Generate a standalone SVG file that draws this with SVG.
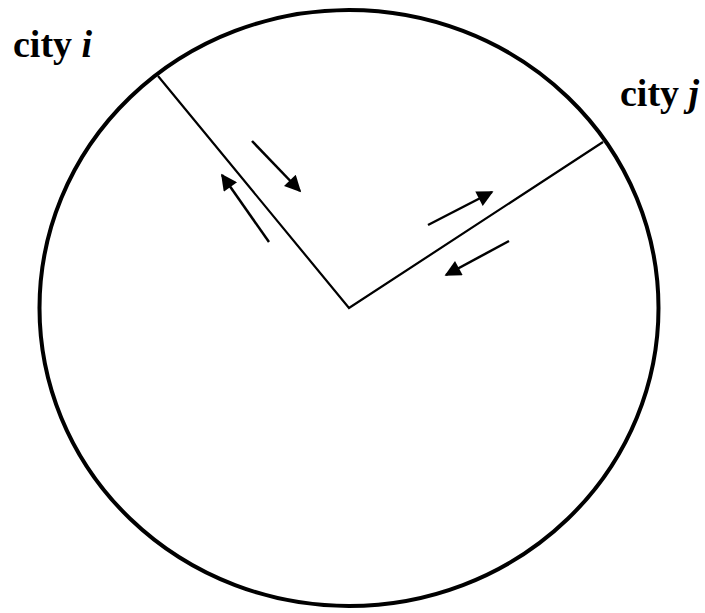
<svg xmlns="http://www.w3.org/2000/svg" width="705" height="613" viewBox="0 0 705 613">
<style>
.lbl{font-family:"Liberation Serif","Times New Roman",serif;font-weight:bold;font-size:38px;fill:#000}
.it{font-style:italic}
.edge{stroke:#000;stroke-width:2.2;fill:none}
.arr{stroke:#000;stroke-width:2.5;fill:none;marker-end:url(#ah)}
</style>
<defs>
<marker id="ah" viewBox="0 0 10 10" refX="9" refY="5" markerWidth="8.5" markerHeight="6.5" markerUnits="strokeWidth" orient="auto">
<path d="M0,0 L10,5 L0,10 z" fill="#000"/>
</marker>
</defs>
<g id="circle">
<ellipse cx="349" cy="308" rx="309.5" ry="298" fill="none" stroke="#000" stroke-width="4"/>
</g>
<g id="city-i">
<text class="lbl" x="13" y="57">city <tspan class="it">i</tspan></text>
</g>
<g id="city-j">
<text class="lbl" x="620" y="106">city <tspan class="it">j</tspan></text>
</g>
<g id="connectors">
<polyline class="edge" points="158,76 349,308 603,142"/>
<line class="arr" x1="252" y1="141" x2="300" y2="191"/>
<line class="arr" x1="269" y1="242" x2="222" y2="175"/>
<line class="arr" x1="428" y1="225" x2="492" y2="192"/>
<line class="arr" x1="509" y1="241" x2="446" y2="275"/>
</g>
</svg>
